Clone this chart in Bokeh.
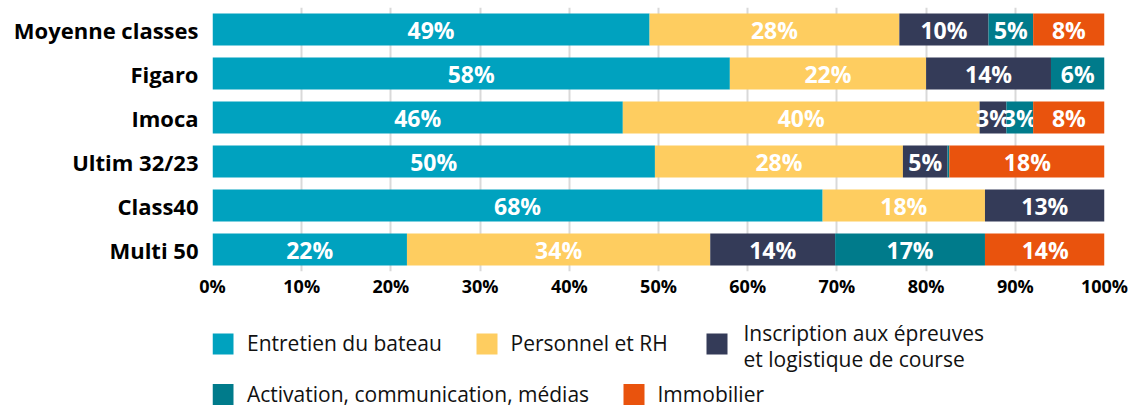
from bokeh.plotting import figure
from bokeh.models import ColumnDataSource, FactorRange, Range1d, FixedTicker, PrintfTickFormatter
from bokeh.layouts import column
from bokeh.core.properties import value
from bokeh.embed import file_html
from bokeh.resources import INLINE
import numpy as np

categories = ["Moyenne classes", "Figaro", "Imoca", "Ultim 32/23", "Class40", "Multi 50"]
series = ["Entretien du bateau", "Personnel et RH",
          "Inscription aux épreuves\net logistique de course",
          "Activation, communication, médias", "Immobilier"]
entretien = [49, 58, 46, 49.6, 68.4, 21.8]
personnel = [28, 22, 40, 27.8, 18.2, 34]
inscription = [10, 14, 3, 5, 13.4, 14]
activation = [5, 6, 3, 0.2, 0, 16.8]
immobilier = [8, 0, 8, 17.5, 0, 13.5]
x_ticks = [0, 10, 20, 30, 40, 50, 60, 70, 80, 90, 100]

colors = ["#00a2bf", "#fecd60", "#343b58", "#007b8b", "#e9530d"]
FONT = "Open Sans"
LEFT, RIGHT = 212, 27

data = np.array([entretien, personnel, inscription, activation, immobilier])
lefts = np.vstack([np.zeros(len(categories)), np.cumsum(data, axis=0)[:-1]])

p = figure(width=1131, height=308, y_range=FactorRange(*reversed(categories)),
           x_range=Range1d(0, 100), output_backend="svg", toolbar_location=None)
p.min_border_left = LEFT
p.min_border_right = RIGHT
p.min_border_top = 7
p.min_border_bottom = 37
p.outline_line_color = None
p.background_fill_color = "white"
p.ygrid.grid_line_color = None
p.xgrid.ticker = FixedTicker(ticks=x_ticks)
p.xgrid.grid_line_color = "#d9d9d9"
p.xgrid.grid_line_width = 2

for i, s in enumerate(series):
    vals = data[i]
    src = ColumnDataSource(dict(y=categories, left=lefts[i], right=lefts[i] + vals,
                                mid=lefts[i] + vals / 2,
                                lab=[f"{round(v)}%" if v >= 1 else "" for v in vals]))
    p.hbar(y="y", left="left", right="right", height=0.727, source=src,
           fill_color=colors[i], line_color=None)
    p.text(x="mid", y="y", text="lab", source=src, text_color="white",
           text_font=value(FONT), text_font_style="bold", text_font_size="23px",
           text_align="center", text_baseline="middle")

p.xaxis.ticker = FixedTicker(ticks=x_ticks)
p.xaxis.formatter = PrintfTickFormatter(format="%d%%")
p.xaxis.axis_line_color = None
p.xaxis.major_tick_line_color = None
p.xaxis.minor_tick_line_color = None
p.xaxis.major_label_standoff = -4
p.xaxis.major_label_text_font = FONT
p.xaxis.major_label_text_font_style = "bold"
p.xaxis.major_label_text_font_size = "18px"
p.xaxis.major_label_text_color = "black"

p.yaxis.axis_line_color = None
p.yaxis.major_tick_line_color = None
p.yaxis.minor_tick_line_color = None
p.yaxis.major_label_standoff = 8
p.yaxis.major_label_text_font = FONT
p.yaxis.major_label_text_font_style = "bold"
p.yaxis.major_label_text_font_size = "22px"
p.yaxis.major_label_text_color = "black"

# Legend figure (frame aligned with the chart frame; x in page pixels)
lg = figure(width=1131, height=98, x_range=Range1d(LEFT, 1131 - RIGHT), y_range=Range1d(98, 0),
            output_backend="svg", toolbar_location=None,
            x_axis_location=None, y_axis_location=None)
lg.min_border_left = LEFT
lg.min_border_right = RIGHT
lg.min_border_top = lg.min_border_bottom = 0
lg.outline_line_color = None
lg.xgrid.visible = False
lg.ygrid.visible = False

sq_x = [222.5, 486.5, 716.5, 222.5, 633.5]
sq_y = [35.5, 35.5, 35.5, 86, 86]
tx_x = [246.5, 510, 743, 246.5, 657]
lg.rect(x=sq_x, y=sq_y, width=21, height=21, fill_color=colors, line_color=None)
for i, s in enumerate(series):
    lines = s.split("\n")
    if len(lines) == 1:
        lg.text(x=[tx_x[i]], y=[sq_y[i] - 1], text=[lines[0]], text_font=value(FONT),
                text_font_size="21px", text_color="#111111", text_baseline="middle")
    else:
        lg.text(x=[tx_x[i], tx_x[i]], y=[sq_y[i] - 11, sq_y[i] + 15], text=lines,
                text_font=value(FONT), text_font_size="21px", text_color="#111111",
                text_baseline="middle")

layout = column(p, lg, spacing=0)
open("out.html", "w").write(file_html(layout, INLINE))
